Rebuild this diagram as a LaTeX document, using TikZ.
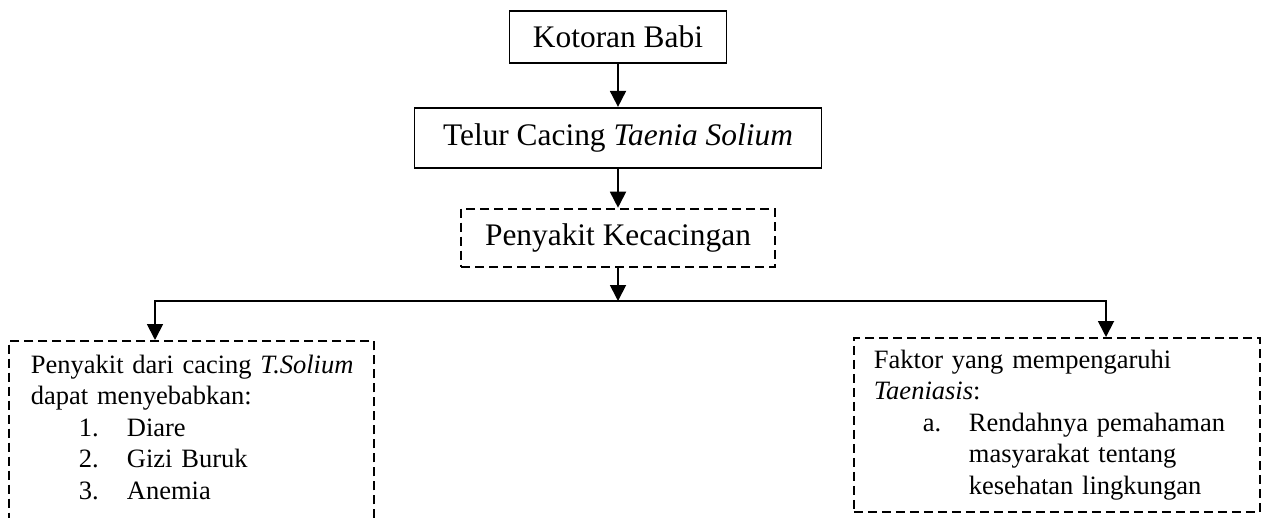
\documentclass[tikz,border=0pt]{standalone}
\usepackage{fontspec}
\setmainfont{Liberation Serif}
\usetikzlibrary{arrows.meta, positioning, calc}

\begin{document}
\begin{tikzpicture}[
		x=0.5pt, y=-0.5pt,
		every node/.style={font=\fontsize{15.7}{19}\selectfont},
		box/.style={draw, line width=0.9pt, inner sep=0pt, align=center},
		dbox/.style={draw, line width=0.9pt, dash pattern=on 4.5pt off 2.5pt, inner sep=0pt},
		isi/.style={dbox, font=\fontsize{13.25}{15.75}\selectfont, align=left, anchor=north west},
		arrow/.style={line width=0.9pt, -{Triangle[width=8pt, length=8pt]}}
		]
		\useasboundingbox (0,0) rectangle (1261,518);
		\clip (0,0) rectangle (1261,518);
		
		% Kotak atas
		\node[box, minimum width=108.5pt, minimum height=26pt] (kotoran) at (618,37) {Kotoran Babi};
		\node[box, minimum width=203.5pt, minimum height=30pt, below=21.5pt of kotoran] (telur) {Telur Cacing \textit{Taenia Solium}};
		\node[dbox, minimum width=157pt, minimum height=29pt, below=19.5pt of telur] (penyakit) {Penyakit Kecacingan};
		
		% Kotak bawah
		\node[isi, inner xsep=11pt, inner ysep=7pt, text width=160.5pt, text depth=100pt] (kiri) at (8,340)
		{\mbox{Penyakit dari cacing \textit{T.Solium}}\\
			dapat menyebabkan:\\
			\hspace*{24pt}\makebox[24pt][l]{1.}Diare\\
			\hspace*{24pt}\makebox[24pt][l]{2.}Gizi Buruk\\
			\hspace*{24pt}\makebox[24pt][l]{3.}Anemia};
		\node[isi, inner xsep=10pt, inner ysep=6pt, text width=183pt] (kanan) at (853,337)
		{Faktor yang mempengaruhi\\
			\textit{Taeniasis}:\\
			\hspace*{24.5pt}\makebox[23pt][l]{a.}Rendahnya pemahaman\\
			\hspace*{47.5pt}masyarakat tentang\\
			\hspace*{47.5pt}kesehatan lingkungan};
		
		% Titik cabang
		\coordinate (cabang) at (618,301);
		\coordinate (kiriAtas) at (155,301);
		\coordinate (kananAtas) at (1106,301);
		
		% Panah
		\draw[arrow] (kotoran) -- (telur);
		\draw[arrow] (telur) -- (penyakit);
		\draw[arrow] (penyakit) -- (cabang);
		\draw[arrow] (cabang) -- (kiriAtas) -- (kiriAtas |- kiri.north);
		\draw[arrow] (cabang) -- (kananAtas) -- (kananAtas |- kanan.north);
	\end{tikzpicture}
\end{document}
